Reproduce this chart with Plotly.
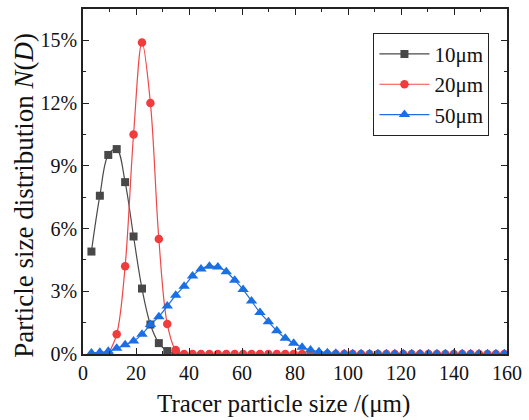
import plotly.graph_objects as go

# Tracer particle size bins (um)
size_um = [3.18, 6.36, 9.54, 12.72, 15.9, 19.08, 22.26, 25.44, 28.62, 31.8,
           34.98, 38.16, 41.34, 44.52, 47.7, 50.88, 54.06, 57.24, 60.42, 63.6,
           66.78, 69.96, 73.14, 76.32, 79.5, 82.68, 85.86, 89.04, 92.22, 95.4,
           98.58, 101.76, 104.94, 108.12, 111.3, 114.48, 117.66, 120.84, 124.02, 127.2,
           130.38, 133.56, 136.74, 139.92, 143.1, 146.28, 149.46, 152.64, 155.82, 159.0]

# Particle size distribution N(D), in %
n_10um = [4.9, 7.57, 9.52, 9.8, 8.22, 5.62, 3.13, 1.41, 0.52, 0.14, 0.0]

n_20um = [None, None, 0.0, 0.95, 4.2, 10.5, 14.9, 12.0, 5.5, 1.43,
          0.19, 0.0, 0.0, 0.0, 0.0, 0.0, 0.0, 0.0, 0.0, 0.0,
          0.0, 0.0, 0.0, 0.0, 0.0, 0.0, 0.0, 0.0, 0.0, 0.0,
          0.0, 0.0, 0.0, 0.0, 0.0, 0.0, 0.0, 0.0, 0.0, 0.0,
          0.0, 0.0, 0.0, 0.0, 0.0, 0.0, 0.0, 0.0, 0.0, 0.0]

n_50um = [0.05, 0.08, 0.13, 0.27, 0.44, 0.62, 0.94, 1.41, 1.78, 2.29,
          2.81, 3.24, 3.73, 4.07, 4.2, 4.16, 3.93, 3.53, 3.08, 2.53,
          1.98, 1.54, 1.11, 0.75, 0.51, 0.32, 0.19, 0.11, 0.06, 0.03,
          0.01, 0.01, 0.01, 0.01, 0.01, 0.01, 0.01, 0.01, 0.01, 0.01,
          0.01, 0.01, 0.01, 0.01, 0.01, 0.01, 0.01, 0.01, 0.01, 0.01]

series_names = ["10\u03bcm", "20\u03bcm", "50\u03bcm"]
x_ticks = [0, 20, 40, 60, 80, 100, 120, 140, 160]
x_ticktext = ["0", "20", "40", "60", "80", "100", "120", "140", "160"]
y_ticks = [0, 3, 6, 9, 12, 15]
y_ticktext = ["0%", "3%", "6%", "9%", "12%", "15%"]

FONT = "Liberation Serif, Times New Roman, serif"
TICKFONT = dict(family=FONT, size=20, color="#111")

fig = go.Figure()
fig.add_trace(go.Scatter(
    x=size_um[:len(n_10um)], y=n_10um, name=series_names[0],
    mode="lines+markers", line=dict(color="#4a4a4a", width=1.2, shape="spline"),
    marker=dict(symbol="square", size=8, color="#484848")))
fig.add_trace(go.Scatter(
    x=size_um, y=n_20um, name=series_names[1],
    mode="lines+markers", line=dict(color="#f04848", width=1.2, shape="spline"),
    marker=dict(symbol="circle", size=8.5, color="#f03c3c")))
fig.add_trace(go.Scatter(
    x=size_um, y=n_50um, name=series_names[2],
    mode="lines+markers", line=dict(color="#1f6fe0", width=1.2, shape="spline"),
    marker=dict(symbol="triangle-up", size=10, color="#1a6fe3")))

fig.update_xaxes(
    showline=True, linecolor="#222", linewidth=1.5, mirror="ticks",
    ticks="inside", ticklen=6, tickwidth=1.2, tickcolor="#222",
    showgrid=False, zeroline=False, tickfont=TICKFONT,
    range=[0, 160], tickmode="array", tickvals=x_ticks, ticktext=x_ticktext,
    minor=dict(dtick=10, ticks="inside", ticklen=3, tickcolor="#222"),
)
fig.update_yaxes(
    showline=True, linecolor="#222", linewidth=1.5, mirror="ticks",
    ticks="inside", ticklen=6, tickwidth=1.2, tickcolor="#222",
    showgrid=False, zeroline=False, tickfont=TICKFONT,
    range=[0, 16.5], tickmode="array", tickvals=y_ticks, ticktext=y_ticktext,
    minor=dict(dtick=1.5, ticks="inside", ticklen=3, tickcolor="#222"),
)

fig.update_layout(
    width=529, height=420,
    margin=dict(l=83, r=16, t=7, b=66),
    paper_bgcolor="white", plot_bgcolor="white",
    font=dict(family=FONT, color="#111"),
    legend=dict(x=0.685, y=0.931, xanchor="left", yanchor="top",
                bordercolor="#222", borderwidth=1, bgcolor="white",
                font=dict(family=FONT, size=21), itemwidth=50,
                tracegroupgap=0),
    showlegend=True,
    annotations=[
        dict(text="Tracer particle size /(\u03bcm)", xref="paper", yref="paper",
             x=(286 - 83) / 430, y=-(404 - 354) / 347, xanchor="center", yanchor="middle",
             showarrow=False, font=dict(family=FONT, size=25, color="#111")),
        dict(text="Particle size distribution <i>N</i>(<i>D</i>)", xref="paper", yref="paper",
             x=-(83 - 23) / 430, y=(354 - 194) / 347, xanchor="center", yanchor="middle",
             textangle=-90, showarrow=False, font=dict(family=FONT, size=27, color="#111")),
    ],
)

fig.write_html("out.html")
